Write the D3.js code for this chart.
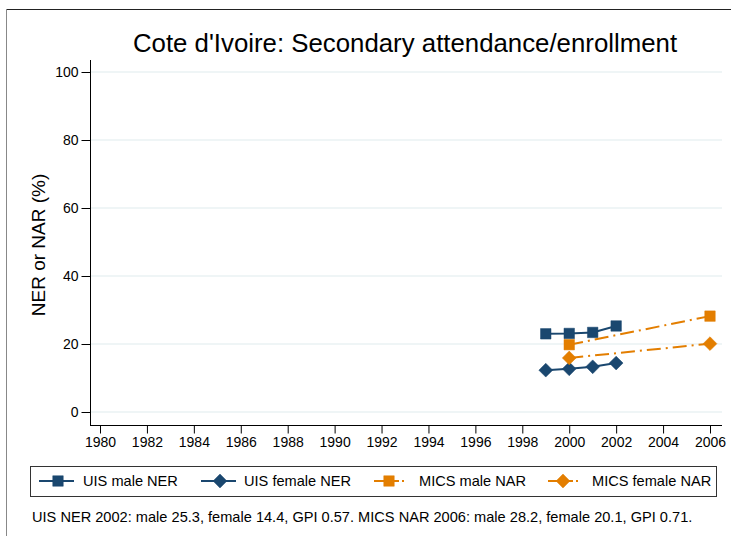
<!DOCTYPE html>
<html>
<head>
<meta charset="utf-8">
<script src="https://cdn.jsdelivr.net/npm/d3@7"></script>
<style>
  body { margin: 0; background: #fff; }
  text { font-family: "Liberation Sans", Arial, sans-serif; }
</style>
</head>
<body>
<div id="chart"></div>
<script>
// Chart values
var xTicks = [1980, 1982, 1984, 1986, 1988, 1990, 1992, 1994, 1996, 1998, 2000, 2002, 2004, 2006];
var yTicks = [0, 20, 40, 60, 80, 100];

var uisYears     = [1999, 2000, 2001, 2002];
var uisMale      = [23.0, 23.1, 23.4, 25.3];
var uisFemale    = [12.3, 12.7, 13.3, 14.4];
var micsYears    = [2000, 2006];
var micsMale     = [19.8, 28.2];
var micsFemale   = [15.9, 20.1];

var seriesNames  = ["UIS male NER", "UIS female NER", "MICS male NAR", "MICS female NAR"];

var navy = "#1a476f", orange = "#e37e00";

var series = [
  { name: seriesNames[0], years: uisYears,  vals: uisMale,    color: navy,   shape: "square",  dash: null },
  { name: seriesNames[1], years: uisYears,  vals: uisFemale,  color: navy,   shape: "diamond", dash: null },
  { name: seriesNames[2], years: micsYears, vals: micsMale,   color: orange, shape: "square",  dash: "14,5,2,5" },
  { name: seriesNames[3], years: micsYears, vals: micsFemale, color: orange, shape: "diamond", dash: "14,5,2,5" }
];

var width = 731, height = 536;

var svg = d3.select("#chart").append("svg")
  .attr("width", width)
  .attr("height", height);

svg.append("rect").attr("width", width).attr("height", height).attr("fill", "#fff");

// outer frame (cropped)
svg.append("line").attr("x1", 6).attr("x2", width).attr("y1", 9.5).attr("y2", 9.5)
  .attr("stroke", "#222").attr("stroke-width", 1);
svg.append("line").attr("x1", 6.5).attr("x2", 6.5).attr("y1", 9).attr("y2", height)
  .attr("stroke", "#888").attr("stroke-width", 1);

var x = d3.scaleLinear().domain([1980, 2006]).range([100, 710]);
var y = d3.scaleLinear().domain([0, 100]).range([412, 72]);

// gridlines
svg.append("g").selectAll("line")
  .data(yTicks)
  .enter().append("line")
    .attr("x1", 91).attr("x2", 722)
    .attr("y1", function(d) { return y(d); })
    .attr("y2", function(d) { return y(d); })
    .attr("stroke", "#eaf2f3")
    .attr("stroke-width", 1.5);

// y axis
var yAxis = svg.append("g")
  .attr("transform", "translate(90.5,0)")
  .call(d3.axisLeft(y).tickValues(yTicks).tickSize(9).tickPadding(3).tickSizeOuter(0));
yAxis.select(".domain").attr("d", "M0,60V425.5").attr("stroke", "#000");
yAxis.selectAll("text").attr("font-size", 14).attr("fill", "#000");

// x axis
var xAxis = svg.append("g")
  .attr("transform", "translate(0,425.5)")
  .call(d3.axisBottom(x).tickValues(xTicks).tickSize(8).tickPadding(4).tickFormat(d3.format("d")).tickSizeOuter(0));
xAxis.select(".domain").attr("d", "M90,0H722").attr("stroke", "#000");
xAxis.selectAll("text").attr("font-size", 14).attr("fill", "#000");

// titles
svg.append("text")
  .attr("x", 405).attr("y", 52)
  .attr("text-anchor", "middle")
  .attr("font-size", 25.8)
  .text("Cote d'Ivoire: Secondary attendance/enrollment");

svg.append("text")
  .attr("transform", "translate(45,245) rotate(-90)")
  .attr("text-anchor", "middle")
  .attr("font-size", 19)
  .text("NER or NAR (%)");

var symSquare = d3.symbol().type(d3.symbolSquare).size(110);
var symDiamond = d3.symbol().type(d3.symbolSquare).size(95);

function drawMarker(g, shape, color, cx, cy) {
  var p = g.append("path")
    .attr("fill", color)
    .attr("stroke", color)
    .attr("stroke-width", 0.5);
  if (shape === "square") {
    p.attr("d", symSquare()).attr("transform", "translate(" + cx + "," + cy + ")");
  } else {
    p.attr("d", symDiamond()).attr("transform", "translate(" + cx + "," + cy + ") rotate(45)");
  }
}

var line = d3.line()
  .x(function(d) { return x(d[0]); })
  .y(function(d) { return y(d[1]); });

series.forEach(function(s) {
  var pts = s.years.map(function(yr, i) { return [yr, s.vals[i]]; });
  var g = svg.append("g");
  g.append("path")
    .attr("d", line(pts))
    .attr("fill", "none")
    .attr("stroke", s.color)
    .attr("stroke-width", 2)
    .attr("stroke-dasharray", s.dash);
  pts.forEach(function(p) { drawMarker(g, s.shape, s.color, x(p[0]), y(p[1])); });
});

// legend
svg.append("rect")
  .attr("x", 30.5).attr("y", 466.5).attr("width", 686).attr("height", 30)
  .attr("fill", "#fff").attr("stroke", "#333").attr("stroke-width", 1);

var legendX = [39, 201, 374, 548];
var legendTextX = [83, 244, 419, 592];
series.forEach(function(s, i) {
  var lg = svg.append("g").attr("transform", "translate(" + legendX[i] + ",481)");
  if (s.dash) {
    lg.append("line")
      .attr("x1", 0).attr("x2", 34).attr("y1", 0).attr("y2", 0)
      .attr("stroke", s.color).attr("stroke-width", 2)
      .attr("stroke-dasharray", "25,3,2,4,2,10");
    drawMarker(lg, s.shape, s.color, 15, 0);
  } else {
    lg.append("line")
      .attr("x1", 0).attr("x2", 35).attr("y1", 0).attr("y2", 0)
      .attr("stroke", s.color).attr("stroke-width", 2);
    drawMarker(lg, s.shape, s.color, 19, 0);
  }
  lg.append("text")
    .attr("x", legendTextX[i] - legendX[i]).attr("y", 5)
    .attr("font-size", 14.6)
    .text(s.name);
});

svg.append("text")
  .attr("x", 32).attr("y", 522)
  .attr("font-size", 14.6)
  .text("UIS NER 2002: male 25.3, female 14.4, GPI 0.57. MICS NAR 2006: male 28.2, female 20.1, GPI 0.71.");
</script>
</body>
</html>
